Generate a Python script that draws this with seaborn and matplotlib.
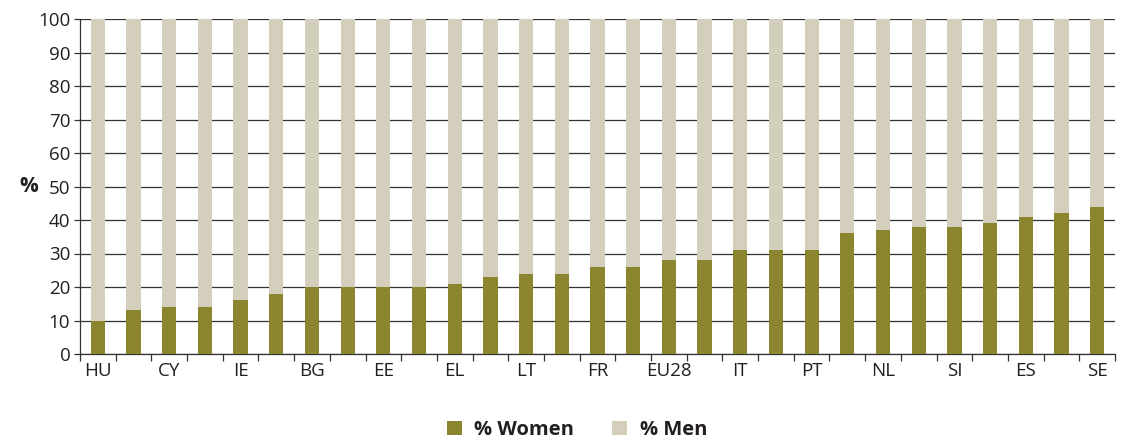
import matplotlib
matplotlib.use("Agg")
import matplotlib.pyplot as plt
import seaborn as sns
import numpy as np
import pandas as pd
from matplotlib.patches import Patch

# Data
countries = ["HU", "MT", "CY", "SK", "IE", "RO", "BG", "CZ", "EE", "AT",
             "EL", "PL", "LT", "HR", "FR", "LV", "EU28", "BE", "IT", "DE",
             "PT", "DK", "NL", "UK", "SI", "FI", "ES", "LU", "SE"]
women = [10, 13, 14, 14, 16, 18, 20, 20, 20, 20,
         21, 23, 24, 24, 26, 26, 28, 28, 31, 31,
         31, 36, 37, 38, 38, 39, 41, 42, 44]
men = [90, 87, 86, 86, 84, 82, 80, 80, 80, 80,
       79, 77, 76, 76, 74, 74, 72, 72, 69, 69,
       69, 64, 63, 62, 62, 61, 59, 58, 56]
yticks = [0, 10, 20, 30, 40, 50, 60, 70, 80, 90, 100]

c_women = "#8a852e"
c_men = "#d4cfbd"
c_text = "#231f20"

df = pd.DataFrame({"country": countries, "women": women, "men": men})
df["total"] = df["women"] + df["men"]

sns.set_style("white")
plt.rcParams["font.family"] = ["Open Sans", "DejaVu Sans"]

fig = plt.figure(figsize=(11.21, 4.42), dpi=100)
ax = fig.add_axes([80 / 1121, 1 - 354 / 442, (1115 - 80) / 1121, (354 - 19) / 442])

sns.barplot(data=df, x="country", y="total", color=c_men, width=0.4,
            saturation=1, linewidth=0, edgecolor="none", ax=ax, zorder=2)
sns.barplot(data=df, x="country", y="women", color=c_women, width=0.4,
            saturation=1, linewidth=0, edgecolor="none", ax=ax, zorder=3)

ax.set_xlim(-0.5, len(countries) - 0.5)
ax.set_ylim(0, 100)
ax.set_yticks(yticks)
ax.yaxis.grid(True, color="#333333", linewidth=0.9, zorder=0)
ax.set_axisbelow(True)
ax.tick_params(axis="y", which="major", length=4, width=0.9, color="#333333",
               labelsize=13.5, pad=3, labelcolor=c_text, left=True)

ax.set_xticks(range(0, len(countries), 2))
ax.set_xticklabels(countries[::2])
ax.set_xticks(np.arange(-0.5, len(countries), 1), minor=True)
ax.tick_params(axis="x", which="major", length=0, labelsize=13.5, pad=6,
               labelcolor=c_text)
ax.tick_params(axis="x", which="minor", length=5, width=0.9, color="#333333",
               bottom=True)

for s in ["top", "right"]:
    ax.spines[s].set_visible(False)
for s in ["left", "bottom"]:
    ax.spines[s].set_color("#333333")
    ax.spines[s].set_linewidth(0.9)

ax.set_xlabel("")
ax.set_ylabel("%", rotation=0, fontsize=15, fontweight="bold",
              color=c_text, va="center", ha="center")
ax.yaxis.set_label_coords(-0.05, 0.5)

handles = [Patch(facecolor=c_women, edgecolor="none", label="% Women"),
           Patch(facecolor=c_men, edgecolor="none", label="% Men")]
fig.legend(handles=handles, loc="center", bbox_to_anchor=(577 / 1121, 1 - 430 / 442),
           ncol=2, frameon=False, handlelength=0.75, handleheight=0.75,
           columnspacing=1.9, handletextpad=0.6,
           prop={"weight": "bold", "size": 14.5}, labelcolor=c_text)

fig.savefig("out.png", dpi=100)
